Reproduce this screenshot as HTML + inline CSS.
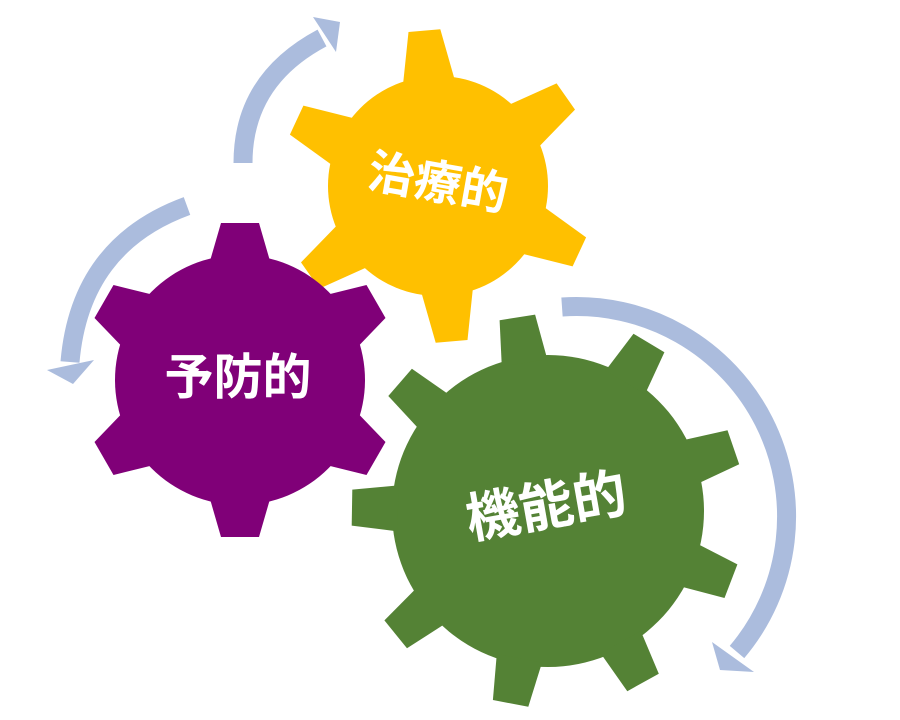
<!DOCTYPE html>
<html><head><meta charset="utf-8"><style>
html,body{margin:0;padding:0;background:#fff;}
svg{display:block;}
text{font-family:"Liberation Sans","Noto Sans CJK JP",sans-serif;font-weight:bold;fill:#fff;}
</style></head><body>
<svg id="s" width="900" height="720" viewBox="0 0 900 720" xmlns="http://www.w3.org/2000/svg">
<g fill="none" stroke="#abbcdd" stroke-width="19">
<path d="M243 163 Q243 80 322 38"/>
<path d="M187 206 Q80 245 70 362"/>
<path d="M562 307 A210 210 0 0 1 737 652"/>
</g>
<g fill="#abbcdd">
<polygon points="340,22 313,17 336,52"/>
<polygon points="73,384 47,370 94,360"/>
<polygon points="720,670 712,642 754,672"/>
</g>
<g id="gears"></g>
<text x="438" y="199" font-size="47" text-anchor="middle" transform="rotate(10 438 182)">治療的</text>
<text x="238" y="394" font-size="49" text-anchor="middle">予防的</text>
<text x="546" y="525" font-size="54" text-anchor="middle" transform="rotate(-10 546 505)">機能的</text>
</svg>
<script>
function gear(cx,cy,r,ro,n,a0,wb,wo,col){
 var s='<circle cx="'+cx+'" cy="'+cy+'" r="'+r+'" fill="'+col+'"/>';
 for(var i=0;i<n;i++){
  var a=(a0+i*360/n)*Math.PI/180, c=Math.cos(a), si=Math.sin(a), px=-si, py=c;
  var rb=r-6;
  var pts=[[rb,-wb/2],[ro,-wo/2],[ro,wo/2],[rb,wb/2]].map(function(p){
   return (cx+c*p[0]+px*p[1]).toFixed(1)+','+(cy+si*p[0]+py*p[1]).toFixed(1);});
  s+='<polygon points="'+pts.join(' ')+'" fill="'+col+'"/>';
 }
 return s;
}
document.getElementById('gears').innerHTML=
 gear(438,186,110,156,6,-95,52,32,'#ffc000')+
 gear(240,380,125,157,6,-90,60,38,'#800078')+
 gear(548,511,156,196,9,-99,46,36,'#548235');
</script>
</body></html>
